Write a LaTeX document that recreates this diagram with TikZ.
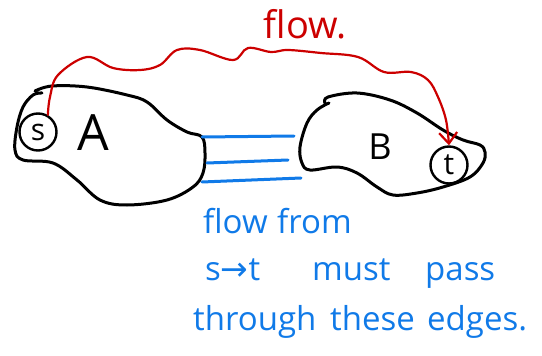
\documentclass[tikz,border=0pt]{standalone}
\usepackage{fontspec}
\setmainfont{Open Sans}
\newfontfamily\symfont{DejaVu Sans}
\usetikzlibrary{arrows.meta}
\definecolor{penred}{RGB}{204,0,0}
\definecolor{penblue}{RGB}{16,122,232}
\tikzset{
  blob/.style={draw=black,line width=3pt,line cap=round,line join=round},
  cutedge/.style={draw=penblue,line width=3pt,line cap=round},
  flowpath/.style={draw=penred,line width=2.2pt,line cap=round,line join=round},
  vertex/.style={circle,draw=black,line width=2.4pt,minimum size=37pt,inner sep=0pt,font=\fontsize{30}{30}\selectfont},
  note/.style={text=penblue,anchor=base west,inner sep=0pt,font=\fontsize{33}{33}\selectfont}
}
\begin{document}
\begin{tikzpicture}[x=1pt,y=-1pt]
\useasboundingbox (0,0) rectangle (542,356);
% blob A
\draw[blob] plot[smooth,tension=0.6] coordinates {(35,91) (52,86) (87,87) (127,95) (147,102) (167,120) (187,132) (202,137) (205,153) (203,173) (193,187) (167,200) (127,205) (100,200) (77,180) (53,163) (23,160) (15,150) (17,127) (23,107) (33,95) (42,93)};
% blob B
\draw[blob] plot[smooth,tension=0.6] coordinates {(325,103) (328,97) (357,93) (390,100) (417,113) (443,130) (463,140) (480,145) (485,152) (483,163) (470,177) (443,187) (417,193) (393,195) (377,187) (357,173) (337,167) (310,170) (302,163) (300,147) (307,123) (317,110) (329,103)};
% vertices and labels
\node[vertex] (s) at (38,132) {s};
\node[vertex] (t) at (449,165) {t};
\node[font=\fontsize{50}{50}\selectfont,inner sep=0pt] (A) at (93,133) {A};
\node[font=\fontsize{36}{36}\selectfont,inner sep=0pt] (B) at (380,147) {B};
% cut edges
\coordinate (e1a) at (202,137); \coordinate (e1b) at (294,136);
\coordinate (e2a) at (207,163); \coordinate (e2b) at (288,160);
\coordinate (e3a) at (202,182); \coordinate (e3b) at (301,178);
\draw[cutedge] (e1a) -- (e1b);
\draw[cutedge] (e2a) -- (e2b);
\draw[cutedge] (e3a) -- (e3b);
% red flow path
\draw[flowpath,-{Straight Barb[length=11pt,width=18pt,line width=2.2pt]}] plot[smooth,tension=0.6] coordinates {(s.60) (50,97) (58,75) (87,57) (113,68) (140,70) (160,65) (177,50) (200,50) (233,60) (248,48) (271,52) (288,50) (321,53) (358,57) (384,72) (411,72) (428,80) (438,97) (446,120) (t.north)};
\node[text=penred,font=\fontsize{38}{38}\selectfont,inner sep=0pt] (flow) at (305,24) {flow.};
% blue note
\node[note] (n1) at (203,233) {\makebox[74pt][l]{flow}from};
\node[note] (n2) at (205,280) {\makebox[107pt][l]{s{\symfont→}t}\makebox[113pt][l]{must}pass};
\node[note] (n3) at (193,330) {\makebox[137pt][l]{through}\makebox[97pt][l]{these}edges.};
\end{tikzpicture}
\end{document}
